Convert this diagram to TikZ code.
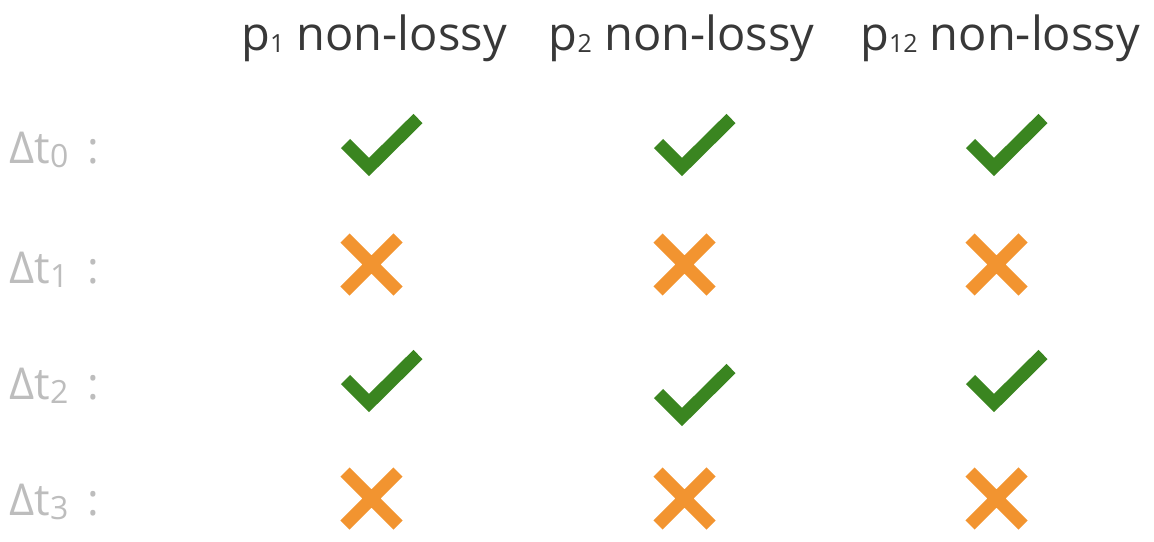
\documentclass[tikz,border=0pt]{standalone}
\usepackage{fontspec}
\setmainfont{Open Sans}
\definecolor{hdgray}{HTML}{383838}
\definecolor{lblgray}{HTML}{BDBDBD}
\definecolor{okgreen}{HTML}{3A8520}
\definecolor{nogold}{HTML}{F29430}
\newcommand{\hsub}[1]{\raisebox{-1pt}{\fontsize{12.5}{14}\selectfont #1}}
\newcommand{\lsub}[1]{\raisebox{-2pt}{\fontsize{16}{18}\selectfont #1}}
\begin{document}
\begin{tikzpicture}[x = .5pt, y = -.5pt, line join = miter, line cap = butt,
	head/.style = {anchor = base, text = hdgray, inner sep = 0pt, font = \fontsize{23.5}{28}\selectfont},
	lbl/.style = {anchor = base west, text = lblgray, inner sep = 0pt, font = \fontsize{22}{26}\selectfont},
	tick/.pic = {\draw[okgreen, line width = 6.5pt] (-36.5,-1.5) -- (-13,22) -- (36,-26.5);},
	cross/.pic = {\draw[nogold, line width = 6.5pt] (-26.5,-26.5) -- (26.5,26.5) (-26.5,26.5) -- (26.5,-26.5);}]
	\useasboundingbox (0,0) rectangle (1154,541);
	
	% column heads
	\node[head] (h1) at (374,50) {p\hsub{1} non-lossy};
	\node[head] (h2) at (681.5,50) {p\hsub{2} non-lossy};
	\node[head] (h3) at (1000,50) {p\hsub{12} non-lossy};
	
	% row labels
	\foreach \i/\y in {0/163,1/283,2/399,3/515}
		\node[lbl] (t\i) at (9,\y) {Δt\lsub{\i}\hspace{4pt} :};
	
	% marks
	\pic (m01) at (382,145) {tick};
	\pic (m02) at (695,145) {tick};
	\pic (m03) at (1007,145) {tick};
	\pic (m11) at (371.5,264.5) {cross};
	\pic (m12) at (684.5,264.5) {cross};
	\pic (m13) at (996.5,264.5) {cross};
	\pic (m21) at (382,381) {tick};
	\pic (m22) at (695,395) {tick};
	\pic (m23) at (1007,381) {tick};
	\pic (m31) at (371.5,498.5) {cross};
	\pic (m32) at (684.5,498.5) {cross};
	\pic (m33) at (996.5,498.5) {cross};
\end{tikzpicture}
\end{document}
